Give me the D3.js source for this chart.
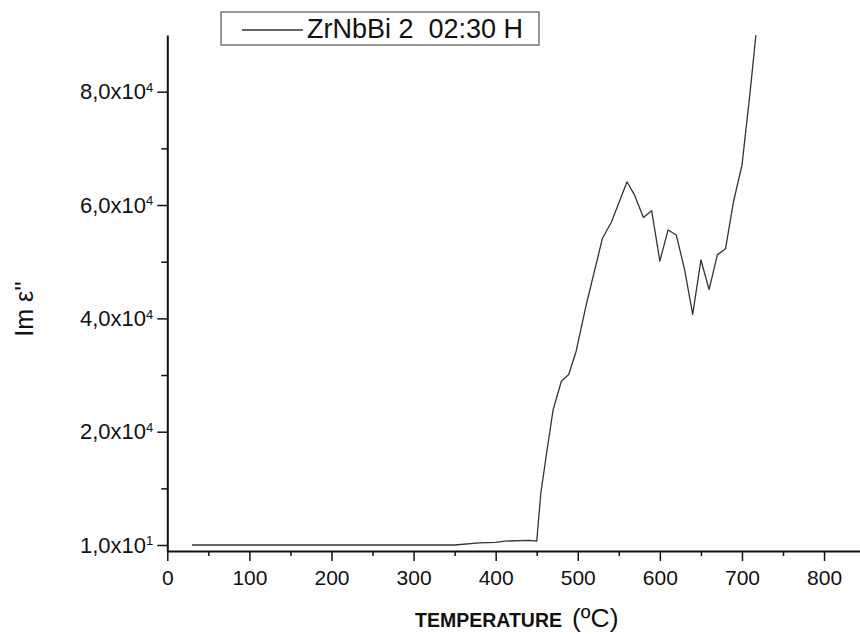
<!DOCTYPE html>
<html>
<head>
<meta charset="utf-8">
<script src="https://cdn.jsdelivr.net/npm/d3@7"></script>
<style>
  body { margin: 0; background: #fff; }
  svg { display: block; font-family: Arial, "Liberation Sans", sans-serif; }
  .axis path, .axis line { stroke: #111; }
</style>
</head>
<body>
<div class="chart"></div>
<script>
// temperature (ºC) and Im e''
var temps = [30, 50, 100, 150, 200, 250, 300, 350, 380, 400, 411, 441, 450, 455, 462, 470, 480, 489, 498, 510, 530, 541, 560, 569, 580, 590, 600, 610, 620, 630, 640, 650, 660, 670, 680, 690, 700, 710, 717];
var imEps = [10, 10, 10, 10, 10, 10, 10, 10, 400, 470, 700, 830, 700, 9150, 16200, 23900, 28900, 30100, 34200, 42200, 54100, 57000, 64100, 61800, 57800, 59000, 50100, 55600, 54700, 48700, 40700, 50300, 45100, 51200, 52300, 60800, 67000, 80000, 90000];

var xTicks = [0, 100, 200, 300, 400, 500, 600, 700, 800];
var xMinorTicks = [50, 150, 250, 350, 450, 550, 650, 750];
var yTicks = [10, 20000, 40000, 60000, 80000];
var yTickMantissa = ["1,0x10", "2,0x10", "4,0x10", "6,0x10", "8,0x10"];
var yTickExponent = ["1", "4", "4", "4", "4"];
var yMinorTicks = [10000, 30000, 50000, 70000];

var seriesName = "ZrNbBi 2  02:30 H";

var width = 860;
var height = 634;

var svg = d3
  .select(".chart")
  .append("svg")
  .attr("width", width)
  .attr("height", height);

svg.append("rect").attr("width", width).attr("height", height).attr("fill", "#fff");

var x = d3.scaleLinear().domain([0, 845]).range([167.3, 861]);
var y = d3.scaleLinear().domain([-1050, 90000]).range([551, 35]);

// minor ticks first so the axis lines sit on top
var xMinor = d3.axisBottom(x).tickValues(xMinorTicks).tickSize(5).tickFormat("").tickSizeOuter(0);
svg.append("g").attr("class", "axis").attr("transform", "translate(0,551)")
  .call(xMinor)
  .call(g => g.select(".domain").remove())
  .selectAll("line").attr("stroke-width", 1.5);

var yMinor = d3.axisLeft(y).tickValues(yMinorTicks).tickSize(6).tickFormat("").tickSizeOuter(0);
svg.append("g").attr("class", "axis").attr("transform", "translate(167.3,0)")
  .call(yMinor)
  .call(g => g.select(".domain").remove())
  .selectAll("line").attr("stroke-width", 1.5);

var xAxis = d3.axisBottom(x).tickValues(xTicks).tickSize(10).tickSizeOuter(0).tickPadding(9);
var xAxisG = svg.append("g").attr("class", "axis").attr("transform", "translate(0,551)").call(xAxis);
xAxisG.select(".domain").attr("stroke-width", 2);
xAxisG.selectAll("line").attr("stroke-width", 1.5);
xAxisG.selectAll("text").attr("font-size", 21).attr("fill", "#111").attr("font-family", "Arial, 'Liberation Sans', sans-serif");

var yAxis = d3.axisLeft(y).tickValues(yTicks).tickSize(10).tickSizeOuter(0).tickPadding(4);
var yAxisG = svg.append("g").attr("class", "axis").attr("transform", "translate(167.3,0)").call(yAxis);
yAxisG.select(".domain").attr("stroke-width", 2);
yAxisG.selectAll("line").attr("stroke-width", 1.5);
yAxisG.selectAll("text")
  .attr("font-size", 22)
  .attr("fill", "#111")
  .attr("font-family", "Arial, 'Liberation Sans', sans-serif")
  .each(function (d, i) {
    var t = d3.select(this);
    t.text(null);
    t.append("tspan").text(yTickMantissa[i]);
    t.append("tspan").attr("dy", "-0.55em").attr("font-size", 13).text(yTickExponent[i]);
  });

// the curve
var line = d3.line()
  .x((d, i) => x(temps[i]))
  .y((d, i) => y(imEps[i]));

svg.append("path")
  .datum(imEps)
  .attr("d", line)
  .attr("fill", "none")
  .attr("stroke", "#333")
  .attr("stroke-width", 1.3)
  .attr("stroke-linejoin", "round");

// legend
var legend = svg.append("g").attr("class", "legend");
legend.append("rect")
  .attr("x", 221).attr("y", 12)
  .attr("width", 318).attr("height", 33)
  .attr("fill", "#fff")
  .attr("stroke", "#777")
  .attr("stroke-width", 1.5);
legend.append("line")
  .attr("x1", 242).attr("x2", 303)
  .attr("y1", 30).attr("y2", 30)
  .attr("stroke", "#333").attr("stroke-width", 1.3);
legend.append("text")
  .attr("x", 307).attr("y", 37.5)
  .attr("font-size", 27)
  .attr("fill", "#111")
  .attr("xml:space", "preserve")
  .style("white-space", "pre")
  .text(seriesName);

// axis titles
var xTitle = svg.append("text")
  .attr("x", 415).attr("y", 627)
  .attr("fill", "#111");
xTitle.append("tspan")
  .attr("font-size", 19.5)
  .attr("font-weight", "bold")
  .text("TEMPERATURE");
xTitle.append("tspan")
  .attr("dx", 10)
  .attr("font-size", 26.5)
  .text("(ºC)");

svg.append("text")
  .attr("transform", "translate(33,309) rotate(-90)")
  .attr("text-anchor", "middle")
  .attr("font-size", 25)
  .attr("fill", "#111")
  .text("Im ε''");
</script>
</body>
</html>
